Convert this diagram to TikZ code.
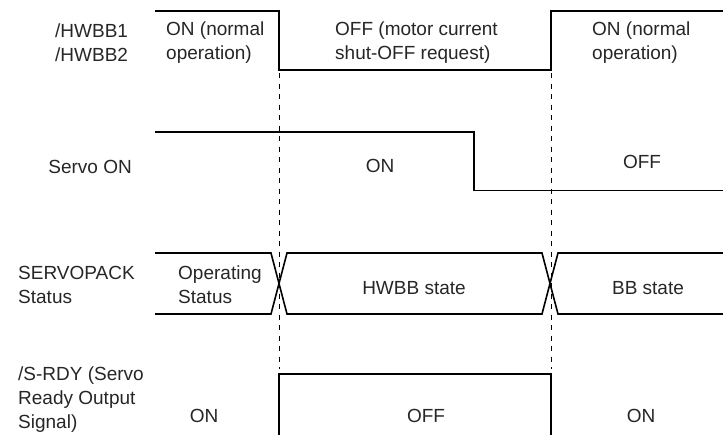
\documentclass[tikz,border=0pt]{standalone}
\usepackage{fontspec}
\setmainfont{Liberation Sans}
\begin{document}
\begin{tikzpicture}[x=1pt,y=-1pt,
  sig/.style={line width=1.6pt,line join=miter},
  guide/.style={line width=0.6pt,dash pattern=on 5pt off 5.5pt},
  lbl/.style={inner sep=0pt,text=black!85,font=\fontsize{19}{24}\selectfont,align=left},
  ctr/.style={inner sep=0pt,text=black!85,font=\fontsize{19}{24}\selectfont,align=center}]
\useasboundingbox (0,0) rectangle (723,434);
% guide lines
\coordinate (g1t) at (279,73); \coordinate (g1b) at (279,369);
\coordinate (g2t) at (551,73); \coordinate (g2b) at (551,369);
\draw[guide] (g1t) -- (g1b);
\draw[guide] (g2t) -- (g2b);
% HWBB
\draw[sig] (155,11) -- (279,11) -- (279,70) -- (551,70) -- (551,11) -- (723,11);
\node[lbl,anchor=west] (hwbb) at (55,43) {/HWBB1\\/HWBB2};
\node[lbl,anchor=west] (hon1) at (166,43) {ON (normal\\operation)};
\node[lbl,anchor=west] (hoff) at (335,43) {OFF (motor current\\shut-OFF request)};
\node[lbl,anchor=west] (hon2) at (592,43) {ON (normal\\operation)};
% Servo ON
\draw[sig] (155,132) -- (474,132) -- (474,190.5) -- (723,190.5);
\node[lbl,anchor=east] (svlbl) at (132,167) {Servo ON};
\node[ctr] (svon) at (380,166) {ON};
\node[ctr] (svoff) at (642,162) {OFF};
% SERVOPACK status
\draw[sig] (155,253) -- (271,253) -- (287,314) -- (542,314) -- (558,253) -- (723,253);
\draw[sig] (155,314) -- (271,314) -- (287,253) -- (542,253) -- (558,314) -- (723,314);
\node[lbl,anchor=west] (stlbl) at (18,285) {SERVOPACK\\Status};
\node[lbl,anchor=west] (stop) at (178,285) {Operating\\Status};
\node[ctr] (sthw) at (414,288) {HWBB state};
\node[ctr] (stbb) at (648,288) {BB state};
% /S-RDY
\draw[sig] (279,436) -- (279,374) -- (551,374) -- (551,436);
\node[lbl,anchor=west] (rdylbl) at (18,400) {/S-RDY (Servo\\Ready Output\\Signal)};
\node[ctr] (rdon1) at (204,416) {ON};
\node[ctr] (rdoff) at (426,416) {OFF};
\node[ctr] (rdon2) at (641,416) {ON};
\end{tikzpicture}
\end{document}
